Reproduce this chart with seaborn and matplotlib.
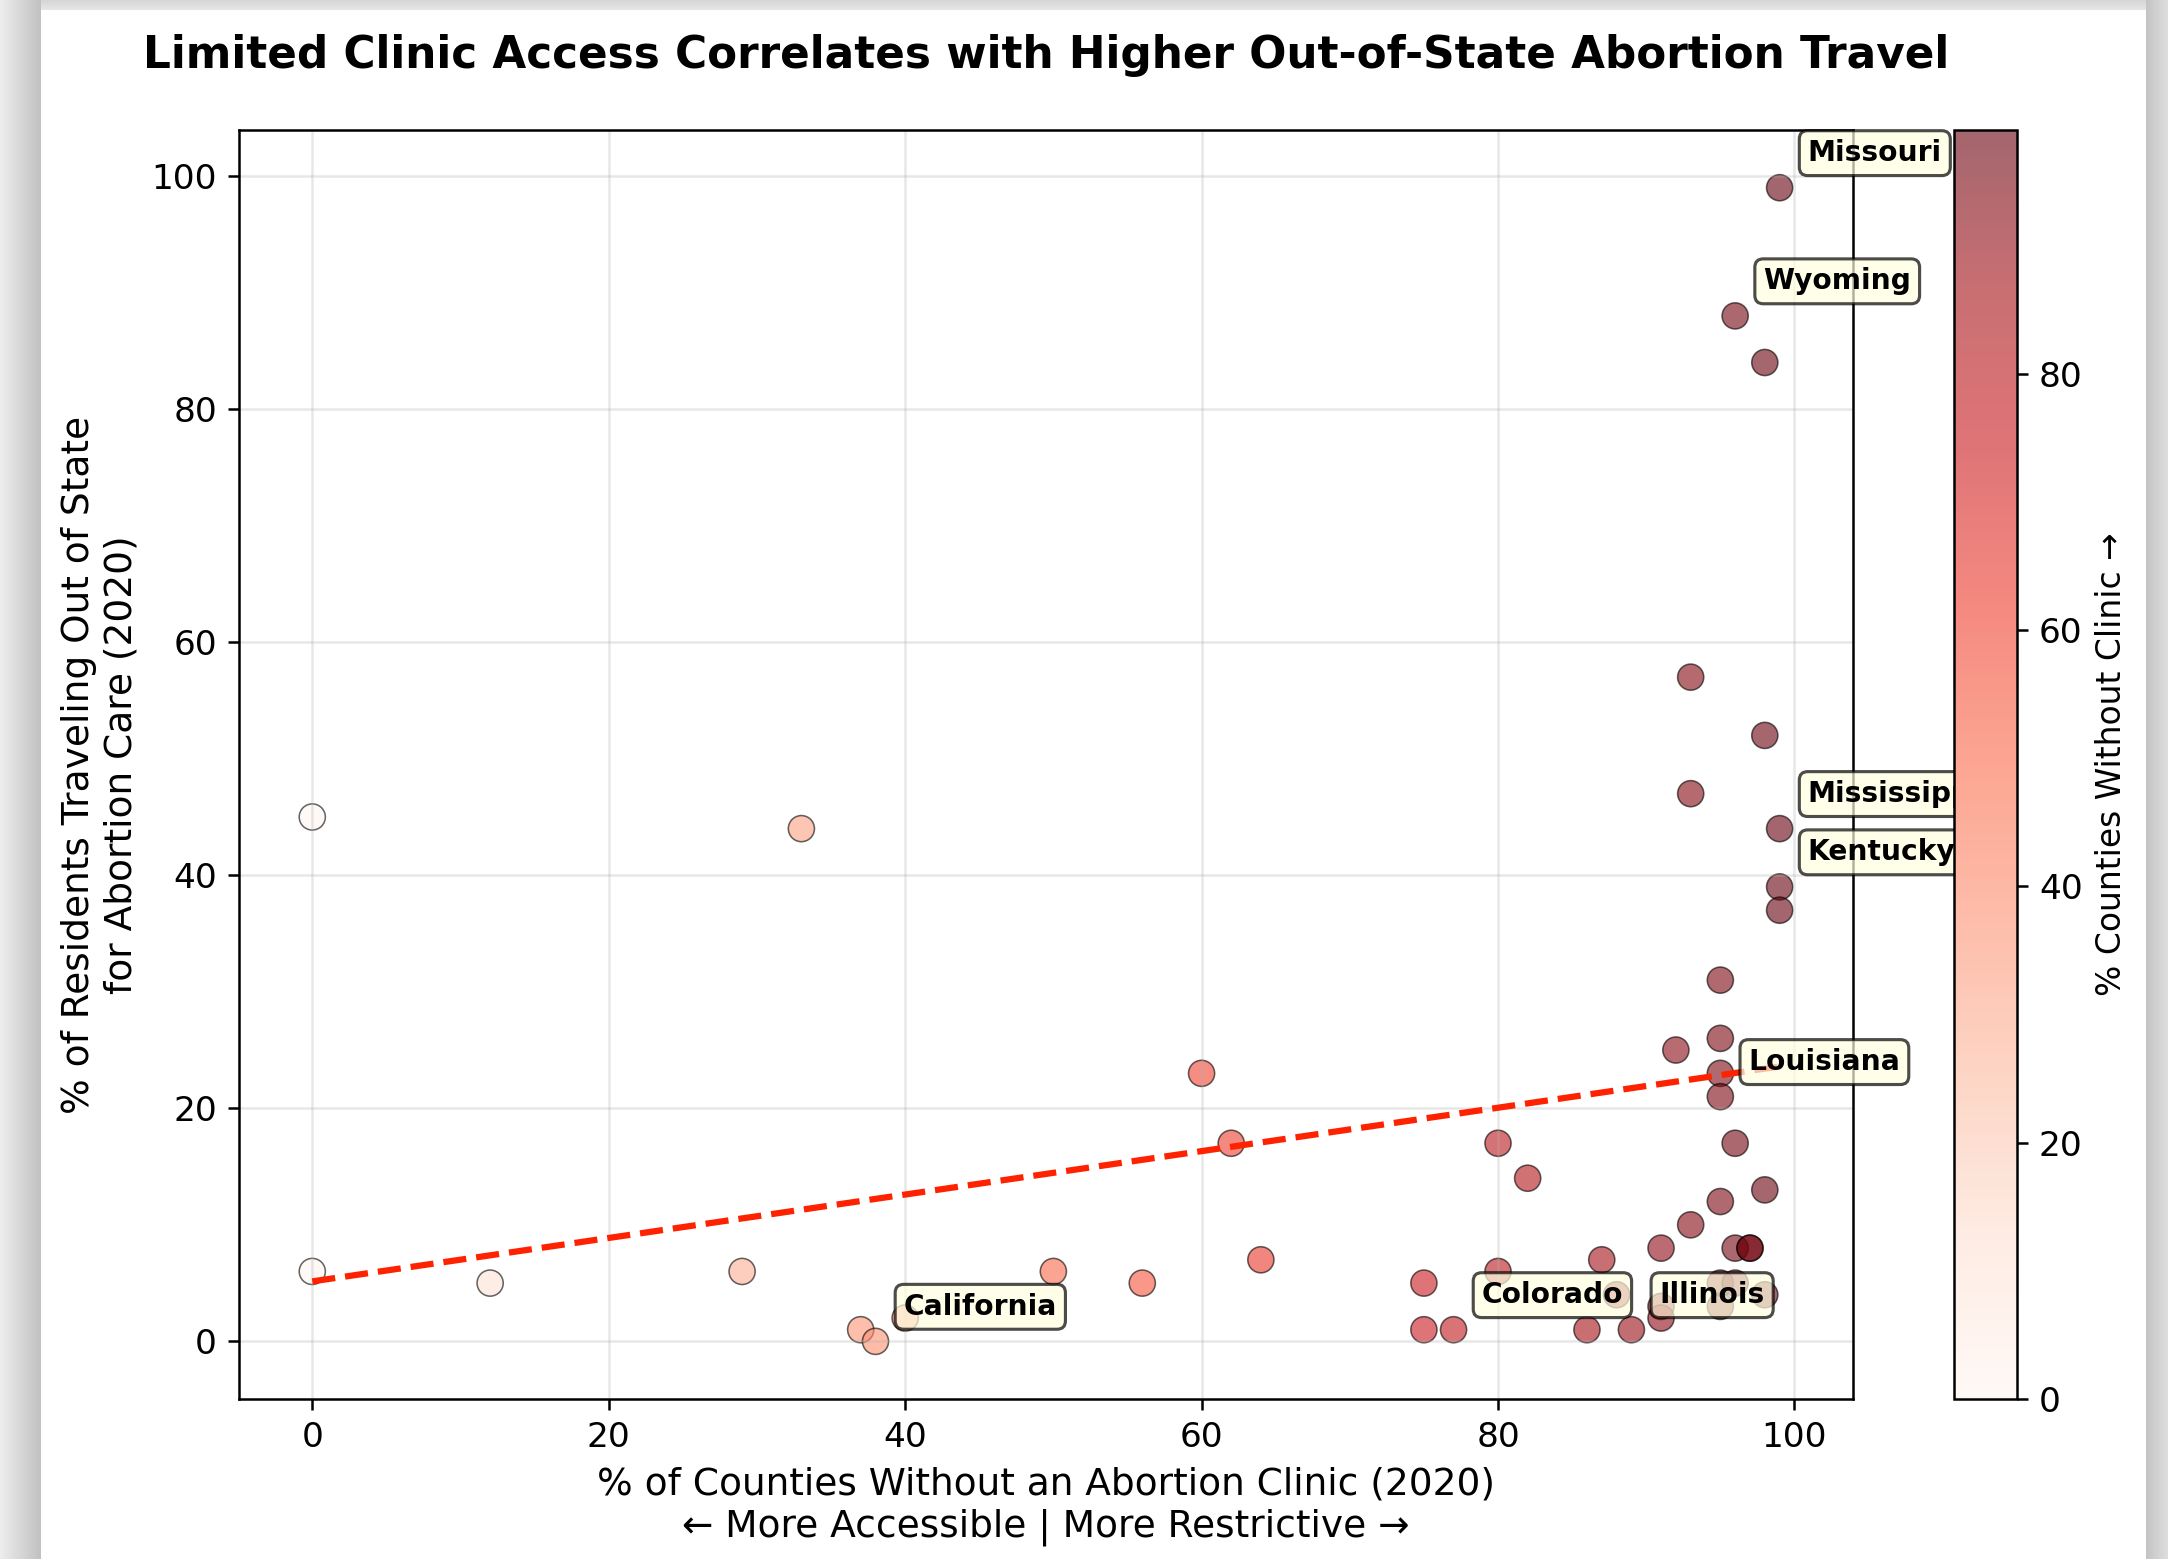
import numpy as np
import matplotlib
matplotlib.use("Agg")
import matplotlib.pyplot as plt
import seaborn as sb
import pandas as pd

# % of counties without a clinic (x) vs % of residents travelling out of state (y)
pct_no_clinic = [0, 0, 12, 29, 33, 37, 38, 40,
                 50, 56, 60, 62, 64,
                 75, 75, 77, 80, 80, 82,
                 86, 87, 88, 89,
                 91, 91, 91, 92,
                 93, 93, 93,
                 95, 95, 95, 95, 95, 95, 95,
                 96, 96, 96, 96,
                 97, 97,
                 98, 98, 98, 98,
                 99, 99, 99, 99]
pct_travel = [45, 6, 5, 6, 44, 1, 0, 2,
              6, 5, 23, 17, 7,
              5, 1, 1, 17, 6, 14,
              1, 7, 4, 1,
              8, 3, 2, 25,
              57, 47, 10,
              31, 26, 23, 21, 12, 5, 3,
              88, 17, 8, 5,
              8, 8,
              84, 52, 13, 4,
              99, 44, 39, 37]
state = [''] * len(pct_no_clinic)
state[6] = 'California'
state[15] = 'Colorado'
state[22] = 'Illinois'
state[33] = 'Louisiana'
state[37] = 'Wyoming'
state[47] = 'Missouri'
state[48] = 'Mississippi'
state[49] = 'Kentucky'

df = pd.DataFrame({'x': pct_no_clinic, 'y': pct_travel, 'state': state})

W, H, DPI = 2168, 1559, 225
fig = plt.figure(figsize=(W / DPI, H / DPI), dpi=DPI)

# screenshot-like grey shadow round the white page
bg = np.ones((H, W))
bg[:, :41] = np.linspace(0.93, 0.76, 41)[None, :]
bg[:, 2146:] = np.linspace(0.77, 0.87, W - 2146)[None, :]
bg[:10, 41:2146] = np.linspace(0.84, 0.90, 10)[:, None]
bgax = fig.add_axes([0, 0, 1, 1])
bgax.imshow(np.dstack([bg] * 3), aspect='auto', interpolation='nearest')
bgax.axis('off')

ax = fig.add_axes([0.1102, 0.1026, 0.7445, 0.814])
cax = fig.add_axes([0.9013, 0.1026, 0.0291, 0.814])

sb.scatterplot(data=df, x='x', y='y', hue='x', palette='Reds', hue_norm=(0, 99),
               s=70, alpha=0.6, edgecolor='black', linewidth=0.5, legend=False, ax=ax)

# trend line
z = np.polyfit(df['x'], df['y'], 1)
xs = np.linspace(df['x'].min(), df['x'].max(), 100)
ax.plot(xs, np.polyval(z, xs), '--', color='#ff2200', linewidth=2)

for _, r in df[df['state'] != ''].iterrows():
    ax.annotate(r['state'], (r['x'], r['y']), xytext=(9, 8.5), textcoords='offset points',
                fontsize=9, fontweight='bold',
                bbox=dict(boxstyle='round,pad=0.3', facecolor='lightyellow',
                          edgecolor='black', alpha=0.7))

ax.grid(True, alpha=0.3)
ax.tick_params(labelsize=11)
ax.set_xlabel('% of Counties Without an Abortion Clinic (2020)\n'
              '\u2190 More Accessible | More Restrictive \u2192', fontsize=12)
ax.set_ylabel('% of Residents Traveling Out of State\nfor Abortion Care (2020)', fontsize=12)
ax.set_title('Limited Clinic Access Correlates with Higher Out-of-State Abortion Travel',
             fontsize=14, fontweight='bold', pad=20)

sm = plt.cm.ScalarMappable(cmap='Reds', norm=plt.Normalize(0, 99))
cb = fig.colorbar(sm, cax=cax, alpha=0.6)
cb.ax.tick_params(labelsize=11)
cb.set_label('% Counties Without Clinic \u2192', fontsize=10.5)

fig.savefig('out.png', dpi=DPI)
